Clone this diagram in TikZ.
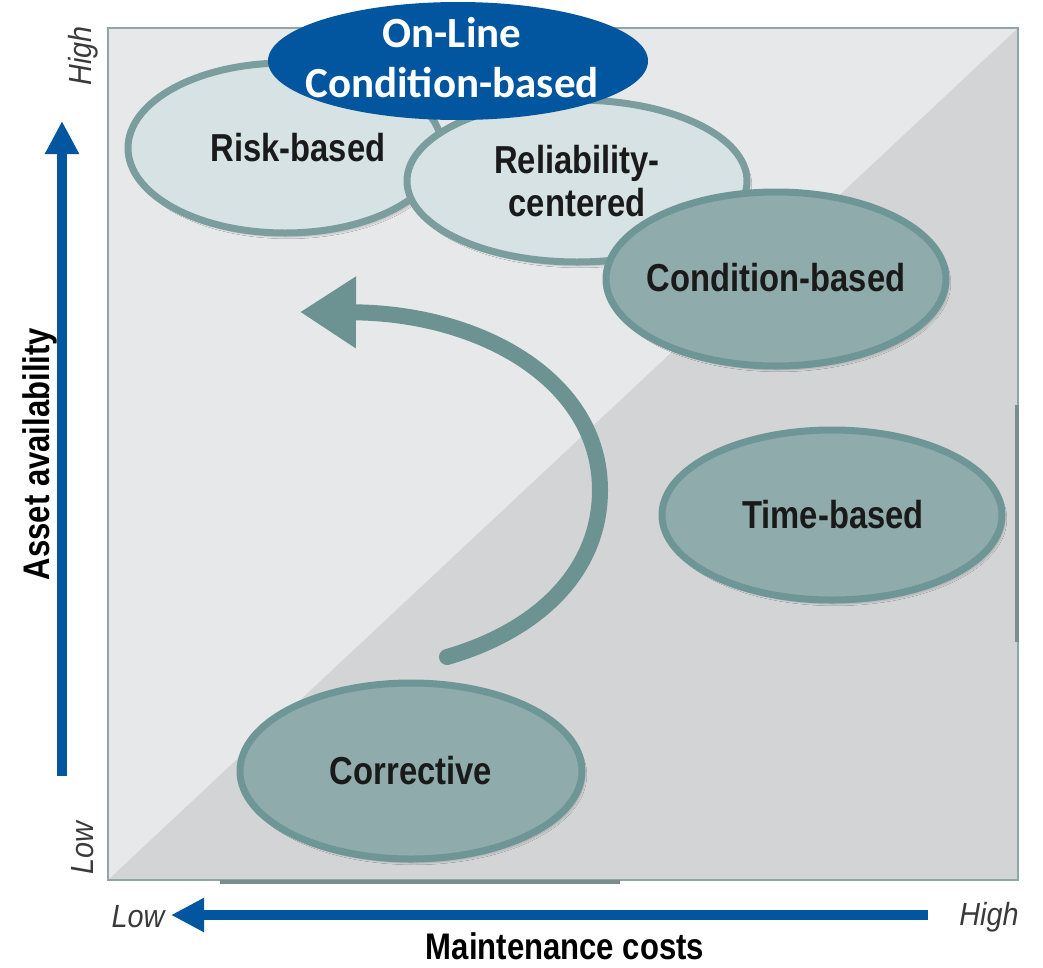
\documentclass[tikz,border=0pt]{standalone}
\usepackage{fontspec}
\usetikzlibrary{shapes.geometric,arrows.meta,shadows.blur}
\newfontfamily\condb{Liberation Sans}[FakeStretch=0.84]
\newfontfamily\condi{Liberation Sans}[FakeStretch=0.9]
\newfontfamily\carl{Carlito}
\definecolor{bgA}{HTML}{E7E8EA}
\definecolor{bgB}{HTML}{D3D4D6}
\definecolor{framec}{HTML}{90A6A6}
\definecolor{lightfill}{HTML}{D6E2E3}
\definecolor{lightborder}{HTML}{7B9D9D}
\definecolor{darkfill}{HTML}{8FABAB}
\definecolor{darkborder}{HTML}{6F9696}
\definecolor{arrowc}{HTML}{6D9292}
\definecolor{blueA}{HTML}{0256A0}
\definecolor{textc}{HTML}{1A1A1A}
\definecolor{axtext}{HTML}{3A3A3A}
\begin{document}
\begin{tikzpicture}[x=1pt,y=-1pt,
  ell/.style={ellipse, inner sep=0pt, line width=7pt,
    blur shadow={shadow xshift=3pt, shadow yshift=-4pt, shadow opacity=20, shadow blur steps=6}},
  lightell/.style={ell, draw=lightborder, fill=lightfill},
  darkell/.style={ell, draw=darkborder, fill=darkfill},
  lbl/.style={text=textc, font=\condb\bfseries\fontsize{39}{43}\selectfont, align=center, inner sep=0pt},
  axlbl/.style={text=black, font=\condb\bfseries\fontsize{37}{41}\selectfont, inner sep=0pt},
  lowhigh/.style={text=axtext, font=\condi\itshape\fontsize{32}{36}\selectfont, inner sep=0pt},
  axarrow/.style={draw=blueA, line width=10pt, -{Triangle[length=33pt,width=32pt]}}
]
\useasboundingbox (0,0) rectangle (1043,967);
\fill[white] (0,0) rectangle (1043,967);
% background
\fill[bgA] (108,28) rectangle (1018,880);
\fill[bgB] (108,880) -- (1018,28) -- (1018,880) -- cycle;
\draw[framec, line width=2pt] (108,28) rectangle (1018,880);
\draw[framec!85!black, line width=4pt] (220,882) -- (620,882);
\draw[framec!85!black, line width=4pt] (1017,405) -- (1017,642);

% curved arrow
\coordinate (cs) at (447,657);
\coordinate (cm) at (600,490);
\coordinate (ce) at (300,312);
\draw[arrowc, line width=16pt, line cap=round, -{Triangle[length=56pt,width=68pt]}]
  (cs) .. controls (540,630) and (600,570) .. (cm)
       .. controls (600,380) and (480,313) .. (ce);

% ellipses
\node[lightell, minimum width=314pt, minimum height=170pt] (risk) at (285,148) {};
\node[lightell, minimum width=340pt, minimum height=162pt] (rel) at (577,181) {};
\node[darkell, minimum width=340pt, minimum height=174pt] (cond) at (776,279) {};
\node[darkell, minimum width=340pt, minimum height=170pt] (time) at (832,515) {};
\node[darkell, minimum width=342pt, minimum height=176pt] (corr) at (411,771) {};
\node[ellipse, fill=blueA, inner sep=0pt, minimum width=380pt, minimum height=118pt] (online) at (458,61) {};

% labels
\node[lbl] (riskt) at (298,148) {Risk-based};
\node[lbl] (relt) at (577,181) {Reliability-\\centered};
\node[lbl] (condt) at (776,278) {Condition-based};
\node[lbl] (timet) at (833,515) {Time-based};
\node[lbl] (corrt) at (411,771) {Corrective};
\node[text=white, font=\carl\bfseries\fontsize{43}{50}\selectfont, align=center, inner sep=0pt] (onlinet) at (452,58) {On-Line\\Condition-based};

% axes
\coordinate (ya) at (62,776);
\coordinate (yb) at (62,121);
\draw[axarrow] (ya) -- (yb);
\coordinate (xa) at (928,915);
\coordinate (xb) at (171,915);
\draw[axarrow] (xa) -- (xb);

\node[axlbl, rotate=90] (ylab) at (40,454) {Asset availability};
\node[axlbl] (xlab) at (565,946) {Maintenance costs};
\node[lowhigh, rotate=90] (yhigh) at (83,56) {High};
\node[lowhigh, rotate=90] (ylow) at (83,848) {Low};
\node[lowhigh] (xlow) at (138,917) {Low};
\node[lowhigh] (xhigh) at (989,917) {High};
\end{tikzpicture}
\end{document}
